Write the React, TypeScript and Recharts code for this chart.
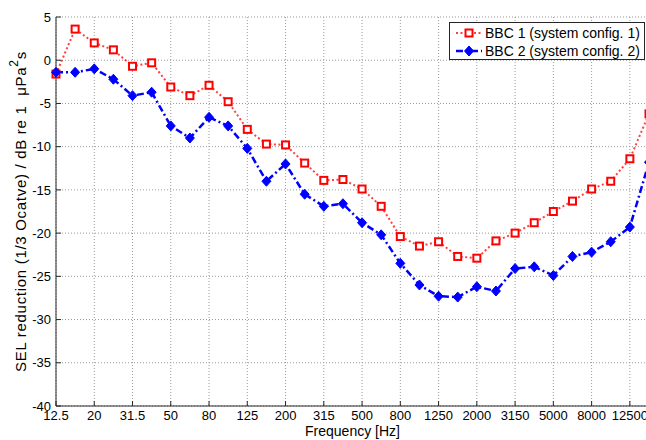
import React from 'react';
import { LineChart, Line, XAxis, YAxis, CartesianGrid } from 'recharts';

const bands = ['12.5', '16', '20', '25', '31.5', '40', '50', '63', '80', '100', '125', '160', '200', '250', '315', '400', '500', '630', '800', '1000', '1250', '1600', '2000', '2500', '3150', '4000', '5000', '6300', '8000', '10000', '12500', '16000'];
const bbc1 = [-1.6, 3.6, 2.0, 1.2, -0.7, -0.3, -3.1, -4.1, -2.9, -4.8, -8.0, -9.7, -9.8, -11.9, -13.9, -13.8, -14.9, -16.9, -20.4, -21.5, -21.0, -22.7, -22.9, -20.9, -20.0, -18.8, -17.5, -16.3, -14.9, -14.0, -11.4, -6.2];
const bbc2 = [-1.4, -1.4, -1.0, -2.2, -4.1, -3.7, -7.6, -9.0, -6.6, -7.6, -10.2, -14.0, -12.0, -15.5, -16.9, -16.6, -18.8, -20.2, -23.5, -26.0, -27.3, -27.4, -26.2, -26.7, -24.1, -23.9, -24.9, -22.7, -22.2, -21.0, -19.3, -11.8];
const xTickIdx = [0, 2, 4, 6, 8, 10, 12, 14, 16, 18, 20, 22, 24, 26, 28, 30];
const xTickLabels = ['12.5', '20', '31.5', '50', '80', '125', '200', '315', '500', '800', '1250', '2000', '3150', '5000', '8000', '12500'];
const yTicks = [-40, -35, -30, -25, -20, -15, -10, -5, 0, 5];
const seriesNames = ['BBC 1 (system config. 1)', 'BBC 2 (system config. 2)'];

const data = bands.map((b, i) => ({ i, band: b, bbc1: bbc1[i], bbc2: bbc2[i] }));

const FONT = '"Liberation Sans", Arial, sans-serif';
const RED = '#ff0000';
const BLUE = '#0000ff';
const AXIS = '#262626';

const renderSquare = (props: any) => {
  const { cx, cy, index } = props;
  if (cx == null || cy == null) return <g key={`s${index}`} />;
  return <rect key={`s${index}`} x={cx - 3.5} y={cy - 3.5} width={7} height={7} fill="#fff" stroke={RED} strokeWidth={2} />;
};

const renderDiamond = (props: any) => {
  const { cx, cy, index } = props;
  if (cx == null || cy == null) return <g key={`d${index}`} />;
  return (
    <polygon
      key={`d${index}`}
      points={`${cx},${cy - 5} ${cx + 4.5},${cy} ${cx},${cy + 5} ${cx - 4.5},${cy}`}
      fill={BLUE}
      stroke={BLUE}
      strokeWidth={1}
    />
  );
};

const renderYLabel = (props: any) => {
  const vb = props.viewBox || {};
  const cx = (vb.x ?? 0) + 20;
  const cy = (vb.y ?? 0) + (vb.height ?? 0) / 2;
  return (
    <text
      x={cx}
      y={cy}
      transform={`rotate(-90 ${cx} ${cy})`}
      textAnchor="middle"
      dominantBaseline="central"
      fontFamily={FONT}
      fontSize={15}
      letterSpacing={0.7}
      fill="#000"
    >
      <tspan>{'SEL reduction (1/3 Ocatve) / dB re 1\u00A0 \u03BCPa'}</tspan>
      <tspan dy={-6} fontSize={12}>2</tspan>
      <tspan dy={6}>s</tspan>
    </text>
  );
};

const noTick = () => <g />;

const LegendBox = () => (
  <div
    style={{
      position: 'absolute',
      left: 449,
      top: 22,
      width: 196,
      height: 38,
      border: '1px solid #262626',
      background: '#fff',
      fontFamily: FONT,
      fontSize: 14,
      color: '#000',
      boxSizing: 'border-box',
    }}
  >
    {seriesNames.map((name, k) => (
      <div key={name} style={{ position: 'absolute', left: 4, top: k === 0 ? 1 : 19, height: 18, display: 'flex', alignItems: 'center', whiteSpace: 'nowrap' }}>
        <svg width={30} height={18} style={{ display: 'block' }}>
          {k === 0 ? (
            <g>
              <line x1={2} y1={9} x2={28} y2={9} stroke={RED} strokeWidth={2} strokeDasharray="2 2.5" strokeOpacity={0.75} />
              <rect x={11.5} y={5.5} width={7} height={7} fill="#fff" stroke={RED} strokeWidth={2} />
            </g>
          ) : (
            <g>
              <line x1={2} y1={9} x2={28} y2={9} stroke={BLUE} strokeWidth={2.5} strokeDasharray="7 3 2 3" />
              <polygon points="15,4 19.5,9 15,14 10.5,9" fill={BLUE} stroke={BLUE} strokeWidth={1} />
            </g>
          )}
        </svg>
        <span style={{ marginLeft: 1 }}>{name}</span>
      </div>
    ))}
  </div>
);

export default function App() {
  return (
    <div style={{ position: 'fixed', left: 0, top: 0, width: 646, height: 440, overflow: 'hidden', background: '#fff' }}>
      <LineChart width={700} height={440} data={data} margin={{ top: 17, right: 51, bottom: 0, left: 0 }}>
        <CartesianGrid stroke="#9a9a9a" strokeDasharray="1 2" strokeWidth={1} />
        <XAxis
          dataKey="i"
          type="number"
          domain={[0, 31]}
          ticks={xTickIdx}
          tickFormatter={(v: number) => xTickLabels[xTickIdx.indexOf(v)] ?? ''}
          height={34}
          tickSize={-5}
          tickMargin={10}
          interval={0}
          stroke={AXIS}
          tick={{ fill: '#000', fontSize: 13, fontFamily: FONT }}
          label={{ value: 'Frequency [Hz]', position: 'insideBottom', offset: 4, fill: '#000', fontSize: 14, fontFamily: FONT }}
        />
        <XAxis
          xAxisId="top"
          dataKey="i"
          orientation="top"
          type="number"
          domain={[0, 31]}
          ticks={xTickIdx}
          height={0}
          tickSize={-5}
          interval={0}
          stroke={AXIS}
          tick={noTick}
        />
        <YAxis
          type="number"
          domain={[-40, 5]}
          ticks={yTicks}
          width={56}
          tickSize={-5}
          tickMargin={10}
          interval={0}
          stroke={AXIS}
          tick={{ fill: '#000', fontSize: 13, fontFamily: FONT }}
          label={{ content: renderYLabel }}
        />
        <YAxis
          yAxisId="right"
          orientation="right"
          type="number"
          domain={[-40, 5]}
          ticks={yTicks}
          width={0}
          tickSize={-5}
          interval={0}
          stroke={AXIS}
          tick={noTick}
        />
        <Line
          dataKey="bbc1"
          stroke={RED}
          strokeOpacity={0.75}
          strokeWidth={2}
          strokeDasharray="2 2.5"
          dot={renderSquare}
          activeDot={false}
          isAnimationActive={false}
        />
        <Line
          dataKey="bbc2"
          stroke={BLUE}
          strokeWidth={2.5}
          strokeDasharray="7 3 2 3"
          dot={renderDiamond}
          activeDot={false}
          isAnimationActive={false}
        />
      </LineChart>
      <LegendBox />
    </div>
  );
}
